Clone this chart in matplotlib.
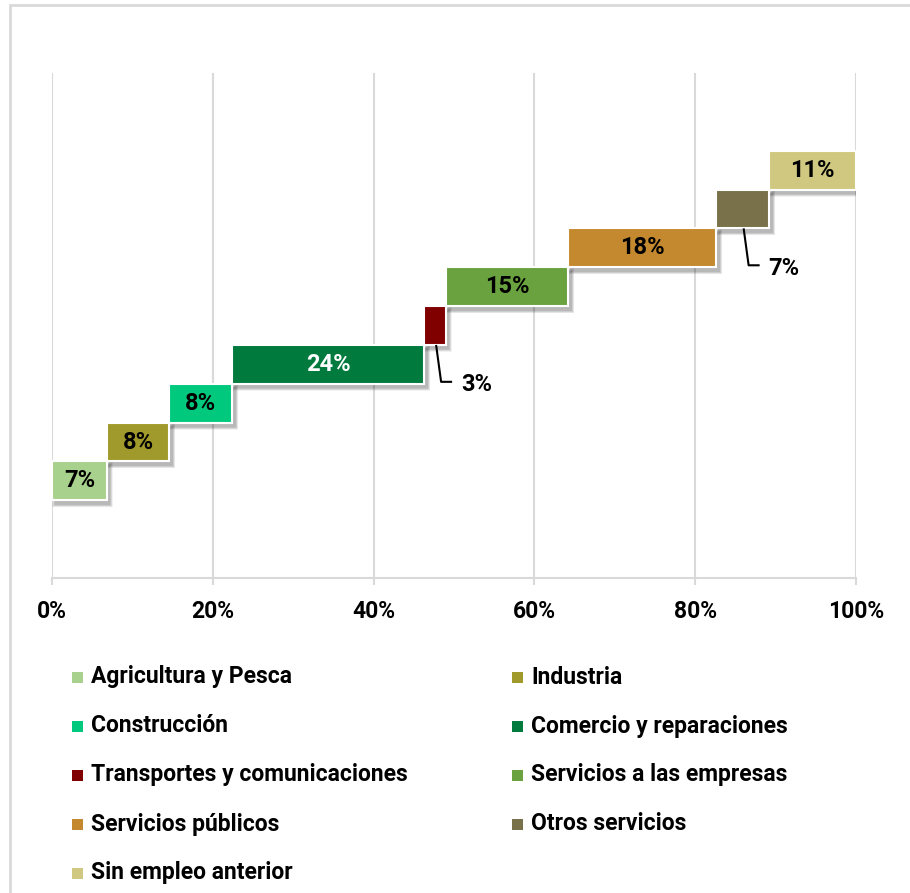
import matplotlib.pyplot as plt
from matplotlib.patches import Rectangle
import numpy as np

sectores = ["Agricultura y Pesca", "Industria", "Construcción", "Comercio y reparaciones",
            "Transportes y comunicaciones", "Servicios a las empresas", "Servicios públicos",
            "Otros servicios", "Sin empleo anterior"]
valores = [6.8, 7.8, 7.8, 23.9, 2.7, 15.2, 18.4, 6.6, 10.8]
colores = ["#A9D18E", "#A09A2C", "#00C97E", "#007A3D", "#800000",
           "#6AA23F", "#C4892E", "#78714A", "#D0C880"]
color_texto = ["black", "black", "black", "white", None, "black", "black", None, "black"]
fuera = [4, 7]  # etiquetas fuera de la barra, con linea guia
ticks = [0, 20, 40, 60, 80, 100]

plt.rcParams['font.family'] = ['Roboto', 'DejaVu Sans']
plt.rcParams['font.weight'] = 'bold'

fig = plt.figure(figsize=(9.1, 8.93), dpi=100)
ax = fig.add_axes([52/910, 1-578/893, 804/910, 505/893])

inicios = np.concatenate([[0], np.cumsum(valores)[:-1]])
filas = np.arange(len(valores)) + 2.5
px_x = 100/804
px_y = 1/38.85

# sombra difusa
for k in range(6, 0, -1):
    for x0, w, y in zip(inicios, valores, filas):
        ax.add_patch(Rectangle((x0 + 3*px_x - k*0.5*px_x, y - 0.5 - 4*px_y - k*0.5*px_y),
                               w + k*px_x, 1 + k*px_y, facecolor="black",
                               alpha=0.05, linewidth=0, zorder=2))

ax.barh(filas, valores, left=inicios, height=1.0, color=colores,
        edgecolor="white", linewidth=1.5, zorder=3)

for i, (x0, w, y) in enumerate(zip(inicios, valores, filas)):
    etiqueta = f"{w:.0f}%"
    if i in fuera:
        xa = x0 + w/2 + 1*px_x
        xb = xa + 5*px_x
        yb = y - 0.5 - 0.95
        ax.plot([xa, xb, xb + 11*px_x], [y - 0.5, yb, yb], color="black", lw=1.5, zorder=4,
                solid_capstyle="butt")
        ax.text(xb + 20*px_x, yb - 3*px_y, etiqueta, ha="left", va="center",
                fontsize=17, fontweight="bold", color="black", zorder=5)
    else:
        ax.text(x0 + w/2, y, etiqueta, ha="center", va="center", fontsize=17,
                fontweight="bold", color=color_texto[i], zorder=5)

ax.set_xlim(0, 100)
ax.set_ylim(0, 13)
ax.set_xticks(ticks)
ax.set_xticklabels([f"{t}%" for t in ticks], fontsize=16.5, fontweight="bold")
ax.set_yticks([])
ax.grid(axis="x", color="#D9D9D9", lw=1.5, zorder=0)
ax.set_axisbelow(True)
for s in ["top", "right", "left"]:
    ax.spines[s].set_visible(False)
ax.spines["bottom"].set_color("#D9D9D9")
ax.spines["bottom"].set_linewidth(1.5)
ax.tick_params(axis="x", length=5, width=1.5, color="#D9D9D9", pad=11)

# leyenda manual en dos columnas
for i, (nombre, c) in enumerate(zip(sectores, colores)):
    col, fila = i % 2, i // 2
    xm = (72 if col == 0 else 512) / 910
    ym = 1 - (677 + fila*49) / 893
    fig.patches.append(Rectangle((xm, ym - 5.5/893), 11/910, 11/893, facecolor=c,
                                 edgecolor="none", transform=fig.transFigure, figure=fig))
    fig.text(xm + 19/910, ym, nombre, ha="left", va="center", fontsize=16.5,
             fontweight="bold", color="black")

# marco exterior
fig.patches.append(Rectangle((10/910, -0.1), 1.2, 1 - 5/893 + 0.1, facecolor="none",
                             edgecolor="#D9D9D9", lw=2, transform=fig.transFigure, figure=fig))

fig.savefig("out.png", dpi=100)
